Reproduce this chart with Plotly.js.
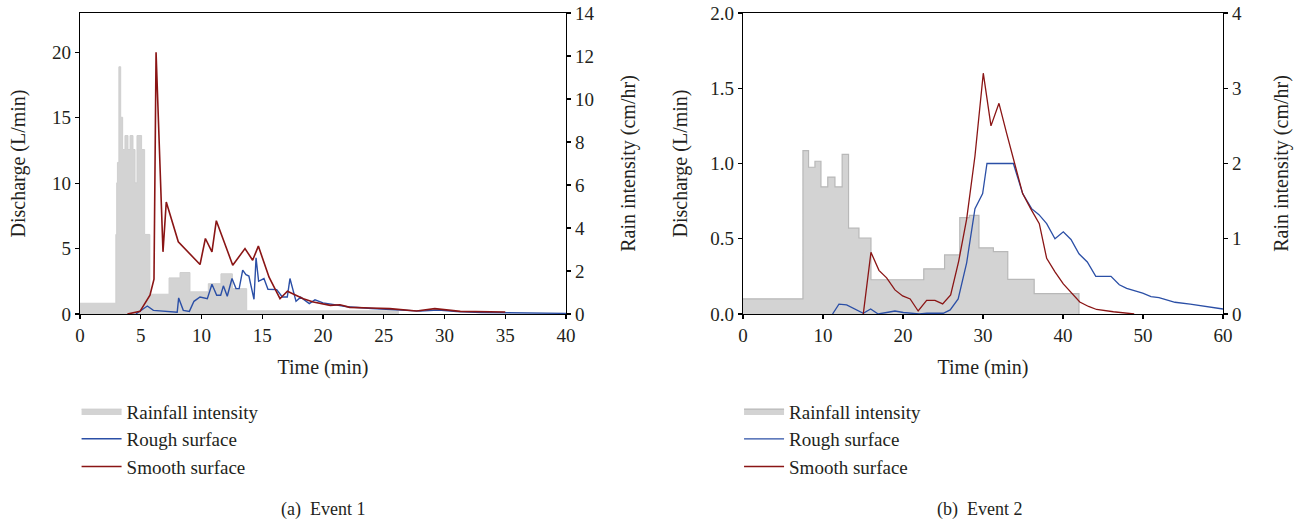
<!DOCTYPE html>
<html>
<head>
<meta charset="utf-8">
<script src="https://cdn.plot.ly/plotly-3.0.1.min.js"></script>
<style>html,body{margin:0;padding:0;background:#fff;}#chart{width:1294px;height:523px;}</style>
</head>
<body>
<div id="chart"></div>
<script>
// ---------- Event 1 ----------
const e1RainT = [0, 2.95, 3.02, 3.08, 3.2, 3.35, 3.51, 3.7, 3.95, 4.12, 4.36, 4.53, 4.69, 5.07, 5.32, 5.75, 7.33, 8.23, 9.05, 10.56, 11.6, 12.54, 13.72, 26.2];
const e1RainV = [0.5, 3.7, 6.1, 7.05, 11.5, 9.15, 7.65, 8.3, 7.65, 8.3, 7.65, 6.1, 8.3, 7.65, 3.7, 0.92, 1.68, 1.93, 1.03, 1.41, 1.87, 1.18, 0.15, 0];

const e1SmoothT = [3.9, 4.94, 5.76, 6.09, 6.26, 6.83, 7.1, 8.09, 9.88, 10.32, 10.86, 11.22, 12.57, 13.58, 14.21, 14.68, 15.56, 16.46, 17.07, 18.38, 19.2, 20.6, 21.4, 22.2, 23.9, 25.5, 27.7, 29.2, 31.3, 33.2, 35];
const e1SmoothQ = [0, 0.2, 1.43, 2.66, 20.0, 4.75, 8.56, 5.52, 3.78, 5.77, 4.75, 7.13, 3.73, 5.0, 4.11, 5.19, 2.81, 1.17, 1.74, 1.17, 0.92, 0.66, 0.71, 0.51, 0.46, 0.41, 0.23, 0.41, 0.2, 0.15, 0.15];

const e1RoughT = [4.6, 5.54, 6.04, 7.13, 8.0, 8.12, 8.5, 9.0, 9.38, 9.88, 10.48, 10.86, 11.25, 11.58, 11.8, 12.12, 12.51, 12.84, 13.1, 13.39, 13.66, 13.9, 14.32, 14.49, 14.7, 15.14, 15.47, 16.19, 16.65, 17.06, 17.28, 17.78, 18.16, 18.87, 19.34, 20.0, 21.0, 22.0, 24.0, 26.0, 28.0, 29.5, 31.0, 33.0, 35.0, 37.5, 40.0];
const e1RoughQ = [0, 0.61, 0.28, 0.2, 0.13, 1.23, 0.28, 0.2, 0.97, 1.3, 1.17, 2.27, 1.43, 1.43, 2.15, 1.36, 2.71, 1.94, 1.94, 3.35, 3.01, 2.9, 1.12, 4.29, 2.5, 2.71, 1.89, 1.86, 1.3, 1.3, 2.71, 0.97, 1.28, 0.79, 1.08, 0.85, 0.68, 0.55, 0.42, 0.33, 0.22, 0.3, 0.18, 0.12, 0.1, 0.07, 0.05];

// ---------- Event 2 ----------
const e2RainT = [0, 7.5, 8.2, 9.0, 9.75, 10.6, 11.5, 12.4, 13.2, 14.5, 16.0, 22.6, 25.2, 27.1, 28.3, 29.5, 31.3, 33.1, 36.4, 42];
const e2RainV = [0.2, 2.17, 1.95, 2.03, 1.69, 1.82, 1.69, 2.12, 1.14, 1.01, 0.455, 0.6, 0.785, 1.28, 1.31, 0.88, 0.83, 0.46, 0.27, 0];

const e2SmoothT = [15.04, 16.0, 17.0, 17.96, 19.0, 19.96, 20.9, 21.9, 22.96, 24.0, 24.96, 25.96, 26.96, 27.96, 29.0, 30.04, 31.0, 32.0, 32.96, 34.0, 34.96, 35.96, 37.04, 37.96, 39.0, 40.04, 41.08, 42.1, 43.2, 44.2, 46.3, 48.4, 48.9];
const e2SmoothQ = [0, 0.41, 0.29, 0.24, 0.16, 0.12, 0.1, 0.02, 0.09, 0.09, 0.067, 0.127, 0.35, 0.63, 1.05, 1.6, 1.25, 1.4, 1.2, 1.0, 0.8, 0.7, 0.6, 0.37, 0.28, 0.2, 0.14, 0.08, 0.05, 0.03, 0.015, 0.005, 0];

const e2RoughT = [11.2, 12.0, 12.96, 14.0, 15.04, 15.96, 16.9, 17.96, 19.0, 20.04, 21.09, 22.04, 23.0, 25.04, 25.9, 26.9, 27.96, 29.0, 29.96, 30.5, 33.8, 34.96, 36.08, 37.0, 37.96, 39.0, 40.04, 41.0, 42.0, 43.04, 44.1, 46.0, 47.04, 47.96, 49.96, 51.0, 52.0, 54.0, 55.9, 57.96, 60];
const e2RoughQ = [0, 0.065, 0.06, 0.03, 0.005, 0.033, 0, 0.01, 0.02, 0.01, 0.005, 0, 0.005, 0.005, 0.027, 0.1, 0.34, 0.7, 0.8, 1.0, 1.0, 0.8, 0.7, 0.66, 0.6, 0.5, 0.546, 0.495, 0.4, 0.346, 0.25, 0.25, 0.194, 0.17, 0.138, 0.116, 0.109, 0.078, 0.065, 0.049, 0.033];

const legendNames = ['Rainfall intensity', 'Rough surface', 'Smooth surface'];
const captions = ['(a)  Event 1', '(b)  Event 2'];

const FONT = 'Liberation Serif, Times New Roman, serif';
const TXT = '#231f20';
const BLUE = '#2b4fa6';
const RED = '#8a1515';
const GRAYFILL = '#d3d3d3';

const traces = [
  // Event 1
  {x: e1RainT, y: e1RainV, type: 'scatter', mode: 'lines', line: {shape: 'hv', color: '#cfcfcf', width: 1},
   fill: 'tozeroy', fillcolor: GRAYFILL, name: legendNames[0], xaxis: 'x', yaxis: 'y', legend: 'legend'},
  {x: e1RoughT, y: e1RoughQ, type: 'scatter', mode: 'lines', line: {color: BLUE, width: 1.4},
   name: legendNames[1], xaxis: 'x', yaxis: 'y2', legend: 'legend'},
  {x: e1SmoothT, y: e1SmoothQ, type: 'scatter', mode: 'lines', line: {color: RED, width: 1.6},
   name: legendNames[2], xaxis: 'x', yaxis: 'y2', legend: 'legend'},
  // Event 2
  {x: e2RainT, y: e2RainV, type: 'scatter', mode: 'lines', line: {shape: 'hv', color: '#b8b8b8', width: 1.2},
   fill: 'tozeroy', fillcolor: GRAYFILL, name: legendNames[0], xaxis: 'x2', yaxis: 'y3', legend: 'legend2'},
  {x: e2RoughT, y: e2RoughQ, type: 'scatter', mode: 'lines', line: {color: BLUE, width: 1.3},
   name: legendNames[1], xaxis: 'x2', yaxis: 'y4', legend: 'legend2'},
  {x: e2SmoothT, y: e2SmoothQ, type: 'scatter', mode: 'lines', line: {color: RED, width: 1.3},
   name: legendNames[2], xaxis: 'x2', yaxis: 'y4', legend: 'legend2'}
];

const tickFont = {family: FONT, size: 19, color: TXT};
const titleFont = {family: FONT, size: 20, color: TXT};
const axCommon = {showgrid: false, zeroline: false, showline: true, linecolor: '#000', linewidth: 1.2,
  ticks: 'outside', ticklen: 4, tickcolor: '#000', tickwidth: 1.2, tickfont: tickFont};

const D1 = [0, 0.4252];
const D2 = [0.58, 1];

const layout = {
  width: 1294, height: 523,
  margin: {l: 80, r: 71, t: 13, b: 209, pad: 0},
  paper_bgcolor: '#fff', plot_bgcolor: '#fff',
  font: {family: FONT, color: TXT},
  xaxis: Object.assign({}, axCommon, {domain: D1, range: [0, 40], dtick: 5, mirror: true, anchor: 'y',
    title: {text: 'Time (min)', font: titleFont, standoff: 15}}),
  yaxis: Object.assign({}, axCommon, {domain: [0, 1], range: [0, 14], dtick: 2, side: 'right', anchor: 'x',
    title: {text: 'Rain intensity (cm/hr)', font: titleFont, standoff: 27}}),
  yaxis2: Object.assign({}, axCommon, {range: [0, 23], tickvals: [0, 5, 10, 15, 20], side: 'left', overlaying: 'y', anchor: 'x',
    title: {text: 'Discharge (L/min)', font: titleFont, standoff: 21}}),
  xaxis2: Object.assign({}, axCommon, {domain: D2, range: [0, 60], dtick: 10, mirror: true, anchor: 'y3',
    title: {text: 'Time (min)', font: titleFont, standoff: 15}}),
  yaxis3: Object.assign({}, axCommon, {domain: [0, 1], range: [0, 4], dtick: 1, side: 'right', anchor: 'x2',
    title: {text: 'Rain intensity (cm/hr)', font: titleFont, standoff: 33}}),
  yaxis4: Object.assign({}, axCommon, {range: [0, 2], dtick: 0.5, tickformat: '.1f', side: 'left', overlaying: 'y3', anchor: 'x2',
    title: {text: 'Discharge (L/min)', font: titleFont, standoff: 17}}),
  showlegend: true,
  legend: {x: -0.003, y: -0.26, xanchor: 'left', yanchor: 'top', font: {family: FONT, size: 19, color: TXT},
    bgcolor: 'rgba(0,0,0,0)', tracegroupgap: 0, itemwidth: 40, traceorder: 'normal'},
  legend2: {x: 0.5766, y: -0.26, xanchor: 'left', yanchor: 'top', font: {family: FONT, size: 19, color: TXT},
    bgcolor: 'rgba(0,0,0,0)', tracegroupgap: 0, itemwidth: 40, traceorder: 'normal'},
  annotations: [
    {text: captions[0], xref: 'paper', yref: 'paper', x: 0.2126, y: -0.648, xanchor: 'center', yanchor: 'middle',
     showarrow: false, font: {family: FONT, size: 18, color: TXT}},
    {text: captions[1], xref: 'paper', yref: 'paper', x: 0.787, y: -0.648, xanchor: 'center', yanchor: 'middle',
     showarrow: false, font: {family: FONT, size: 18, color: TXT}}
  ]
};

Plotly.newPlot('chart', traces, layout, {displayModeBar: false, staticPlot: true});
</script>
</body>
</html>
